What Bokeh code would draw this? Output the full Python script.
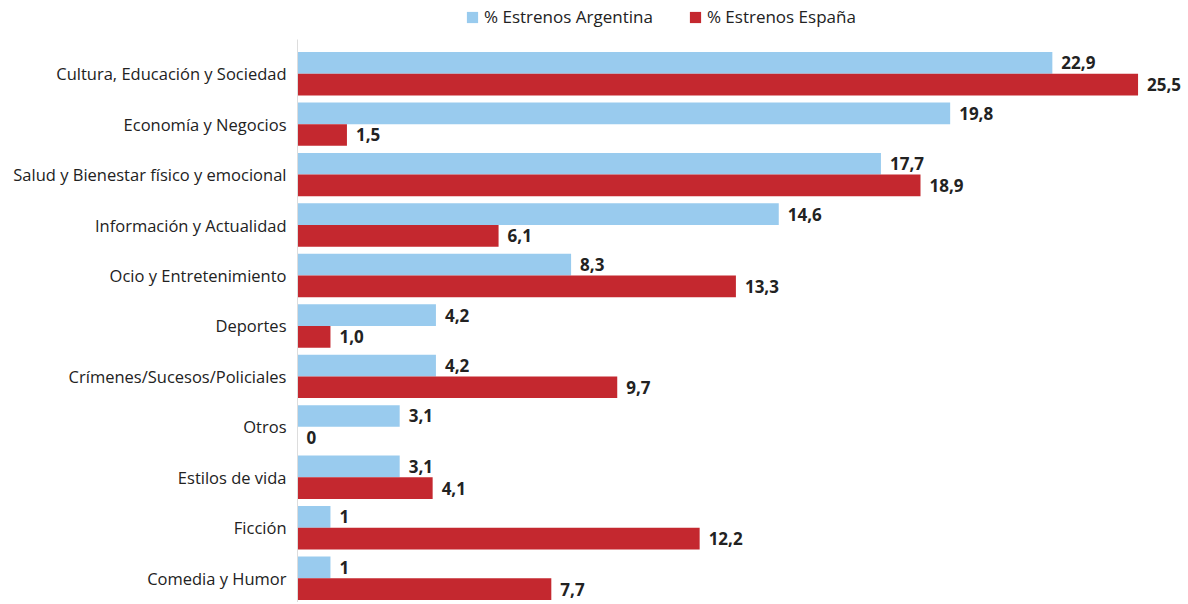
from bokeh.plotting import figure
from bokeh.models import ColumnDataSource, Range1d, FixedTicker, Legend, LegendItem
from bokeh.layouts import column
from bokeh.core.properties import value
from bokeh.embed import file_html
from bokeh.resources import INLINE

categories = ["Cultura, Educación y Sociedad", "Economía y Negocios",
              "Salud y Bienestar físico y emocional", "Información y Actualidad",
              "Ocio y Entretenimiento", "Deportes", "Crímenes/Sucesos/Policiales",
              "Otros", "Estilos de vida", "Ficción", "Comedia y Humor"]
argentina = [22.9, 19.8, 17.7, 14.6, 8.3, 4.2, 4.2, 3.1, 3.1, 1.0, 1.0]
espana = [25.5, 1.5, 18.9, 6.1, 13.3, 1.0, 9.7, 0.0, 4.1, 12.2, 7.7]
argentina_labels = ["22,9", "19,8", "17,7", "14,6", "8,3", "4,2", "4,2", "3,1", "3,1", "1", "1"]
espana_labels = ["25,5", "1,5", "18,9", "6,1", "13,3", "1,0", "9,7", "0", "4,1", "12,2", "7,7"]
series_names = ["% Estrenos Argentina", "% Estrenos España"]

BLUE = "#99CBEE"
RED = "#C4282F"
FONT = "Open Sans"
n = len(categories)
ypos = [n - 1 - i for i in range(n)]
BAR_H = 0.43

src = ColumnDataSource(dict(
    y=ypos,
    ya=[v + BAR_H / 2 for v in ypos],
    ye=[v - BAR_H / 2 for v in ypos],
    arg=argentina, esp=espana,
    argl=argentina_labels, espl=espana_labels,
))

# ---- main chart ----
p = figure(width=1187, height=570, output_backend="svg", toolbar_location=None,
           x_range=Range1d(0, 27.0), y_range=Range1d(-0.482, n - 1 + 0.678),
           min_border_left=297, min_border_right=0, min_border_top=7, min_border_bottom=0)
p.outline_line_color = None
p.xgrid.visible = False
p.ygrid.visible = False
p.xaxis.visible = False

p.hbar(y="ya", right="arg", left=0, height=BAR_H, source=src,
       fill_color=BLUE, line_color=None)
p.hbar(y="ye", right="esp", left=0, height=BAR_H, source=src,
       fill_color=RED, line_color=None)

for ycol, xcol, tcol in [("ya", "arg", "argl"), ("ye", "esp", "espl")]:
    p.text(x=xcol, y=ycol, text=tcol, source=src, x_offset=9,
           text_font=value(FONT), text_font_size="17px", text_font_style="bold",
           text_color="#222222", text_baseline="middle", text_align="left")

yax = p.yaxis[0]
yax.ticker = FixedTicker(ticks=ypos)
yax.major_label_overrides = {yv: c for yv, c in zip(ypos, categories)}
yax.major_tick_line_color = None
yax.minor_tick_line_color = None
yax.axis_line_color = "#DDDDDD"
yax.major_label_text_font = FONT
yax.major_label_text_font_size = "16.5px"
yax.major_label_text_color = "#222222"
yax.major_label_standoff = 5

# ---- legend strip ----
lg = figure(width=1187, height=32, output_backend="svg", toolbar_location=None,
            x_axis_location=None, y_axis_location=None,
            x_range=Range1d(0, 27.0), y_range=Range1d(-0.482, n - 1 + 0.678),
            min_border=0)
lg.outline_line_color = None
lg.xgrid.visible = False
lg.ygrid.visible = False
la = lg.hbar(y="ya", right="arg", left=0, height=BAR_H, source=src,
             fill_color=BLUE, line_color=None, visible=False)
le = lg.hbar(y="ye", right="esp", left=0, height=BAR_H, source=src,
             fill_color=RED, line_color=None, visible=False)
legend = Legend(items=[LegendItem(label=series_names[0], renderers=[la]),
                       LegendItem(label=series_names[1], renderers=[le])],
                orientation="horizontal", location=(168, 4),
                padding=0, margin=0, spacing=35, border_line_color=None,
                background_fill_alpha=0, glyph_width=14, glyph_height=14,
                label_standoff=5, label_text_font=FONT, label_text_font_size="17px",
                label_text_color="#222222", label_height=14)
lg.add_layout(legend, "center")

layout = column(lg, p, spacing=0)
open("out.html", "w").write(file_html(layout, INLINE))
